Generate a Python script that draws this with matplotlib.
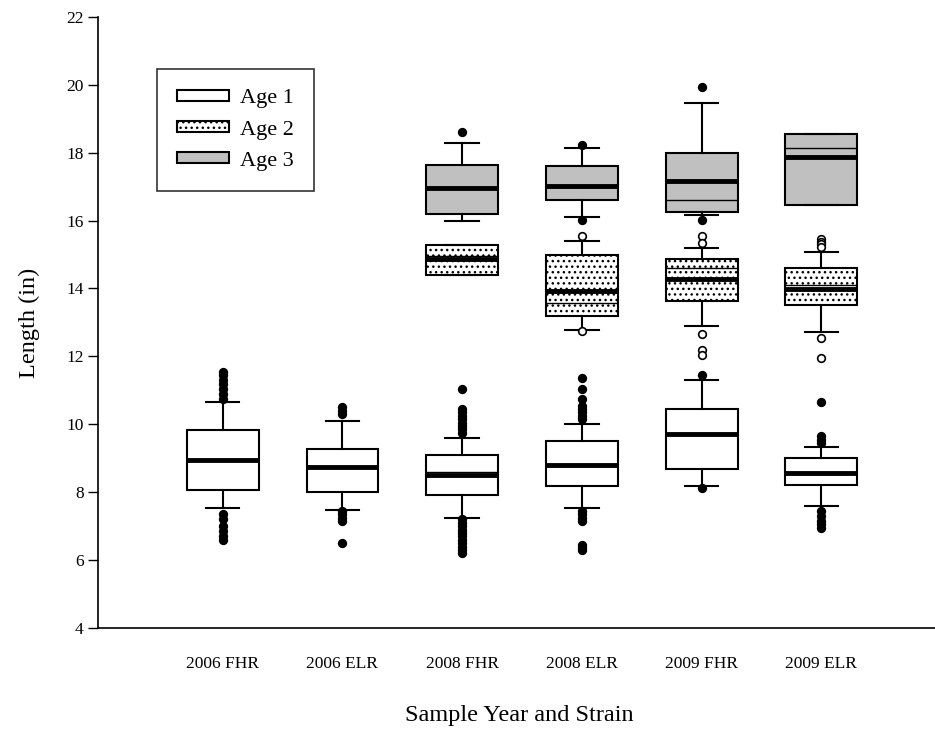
import matplotlib
matplotlib.use('Agg')
import matplotlib.pyplot as plt
from matplotlib.patches import Patch

plt.rcParams['font.family'] = ['Liberation Serif', 'DejaVu Serif']
plt.rcParams['hatch.linewidth'] = 1.0
plt.rcParams['hatch.color'] = '#333333'

categories = ['2006 FHR', '2006 ELR', '2008 FHR', '2008 ELR', '2009 FHR', '2009 ELR']

# Age 1 (all six groups)
age1_pos = [1, 2, 3, 4, 5, 6]
age1_q1 = [8.05, 8.01, 7.91, 8.19, 8.69, 8.20]
age1_q3 = [9.83, 9.27, 9.11, 9.52, 10.45, 9.01]
age1_med = [8.95, 8.75, 8.60, 8.81, 9.72, 8.58]
age1_mean = [8.95, 8.75, 8.51, 8.81, 9.72, 8.58]
age1_lo = [7.52, 7.49, 7.24, 7.52, 8.19, 7.60]
age1_hi = [10.65, 10.09, 9.61, 10.02, 11.31, 9.33]
age1_out = [
    [10.75, 10.9, 11.05, 11.2, 11.3, 11.45, 11.55, 7.35, 7.2, 7.0, 6.85, 6.7, 6.6],
    [10.3, 10.4, 10.5, 7.45, 7.35, 7.25, 7.15, 6.5],
    [11.04, 10.45, 10.35, 10.25, 10.15, 10.05, 9.95, 9.85, 9.75,
     7.2, 7.1, 7.0, 6.9, 6.8, 6.7, 6.6, 6.5, 6.4, 6.3, 6.2],
    [11.35, 11.05, 10.75, 10.55, 10.45, 10.35, 10.25, 10.15,
     7.45, 7.35, 7.25, 7.15, 6.45, 6.35, 6.3],
    [11.45, 8.13],
    [10.65, 9.65, 9.55, 9.45, 7.45, 7.3, 7.15, 7.05, 6.95],
]

# Age 2 (2008 and 2009 only)
age2_pos = [3, 4, 5, 6]
age2_q1 = [14.41, 13.20, 13.63, 13.52]
age2_q3 = [15.28, 14.99, 14.88, 14.60]
age2_med = [14.95, 13.58, 14.60, 14.10]
age2_mean = [14.86, 13.93, 14.29, 13.99]
age2_lo = [14.41, 12.78, 12.88, 12.71]
age2_hi = [15.28, 15.41, 15.20, 15.07]
age2_out = [[], [15.53, 12.74], [15.53, 15.35, 12.65, 12.2, 12.05],
            [15.45, 15.38, 15.3, 15.23, 12.54, 11.95]]

# Age 3 (2008 and 2009 only)
age3_pos = [3, 4, 5, 6]
age3_q1 = [16.20, 16.61, 16.25, 16.46]
age3_q3 = [17.64, 17.61, 18.00, 18.55]
age3_med = [16.95, 17.02, 16.59, 18.13]
age3_mean = [16.95, 17.02, 17.15, 17.86]
age3_lo = [16.00, 16.09, 16.15, 16.46]
age3_hi = [18.29, 18.14, 19.47, 18.55]
age3_out = [[18.60], [18.23, 16.02], [19.94, 16.02], []]


def make_stats(q1, q3, med, mean, lo, hi, out):
    return [dict(q1=a, q3=b, med=m, mean=mu, whislo=l, whishi=h, fliers=f)
            for a, b, m, mu, l, h, f in zip(q1, q3, med, mean, lo, hi, out)]


fig = plt.figure(figsize=(9.35, 7.29), dpi=100)
# right end of the x axis runs just past the figure edge, as in the original
ax = fig.add_axes([0.105, 0.1385, 0.9015, 0.8385])

groups = [
    (age1_pos, make_stats(age1_q1, age1_q3, age1_med, age1_mean, age1_lo, age1_hi, age1_out),
     'white', None, 'black'),
    (age2_pos, make_stats(age2_q1, age2_q3, age2_med, age2_mean, age2_lo, age2_hi, age2_out),
     'white', '...', 'white'),
    (age3_pos, make_stats(age3_q1, age3_q3, age3_med, age3_mean, age3_lo, age3_hi, age3_out),
     '#c0c0c0', None, 'black'),
]

for pos, stats, face, hatch, flier_face in groups:
    ax.bxp(stats, positions=pos, widths=0.6, capwidths=0.28,
           showmeans=True, meanline=True, patch_artist=True,
           boxprops=dict(facecolor=face, edgecolor='black', linewidth=1.5, hatch=hatch),
           whiskerprops=dict(color='black', linewidth=1.5),
           capprops=dict(color='black', linewidth=1.5),
           medianprops=dict(color='black', linewidth=1.0),
           meanprops=dict(color='black', linestyle='-', linewidth=3.5),
           flierprops=dict(marker='o', markersize=5.5, markerfacecolor=flier_face,
                           markeredgecolor='black', markeredgewidth=1.2, linestyle='none'))

ax.set_xlim(-0.04, 7.0)
ax.set_ylim(4, 22)
ax.set_yticks(range(4, 23, 2))
ax.set_xticks(age1_pos)
ax.set_xticklabels(categories)
ax.tick_params(axis='x', length=0, pad=20, labelsize=12.5)
ax.tick_params(axis='y', direction='out', length=7, width=1, labelsize=12.5)
ax.spines['top'].set_visible(False)
ax.spines['right'].set_visible(False)
ax.spines['left'].set_linewidth(1.2)
ax.spines['bottom'].set_linewidth(1.2)

ax.set_ylabel('Length (in)', fontsize=17.5, labelpad=19)
ax.set_xlabel('Sample Year and Strain', fontsize=17.5, labelpad=24)

handles = [
    Patch(facecolor='white', edgecolor='black', linewidth=1.5, label='Age 1'),
    Patch(facecolor='white', edgecolor='black', linewidth=1.5, hatch='...', label='Age 2'),
    Patch(facecolor='#c0c0c0', edgecolor='black', linewidth=1.5, label='Age 3'),
]
leg = ax.legend(handles=handles, loc='upper left', bbox_to_anchor=(0.0695, 0.914),
                borderaxespad=0, fontsize=16, frameon=True, fancybox=False,
                edgecolor='black', handlelength=2.35, handleheight=0.4,
                borderpad=0.9, labelspacing=0.55, handletextpad=0.5)
leg.get_frame().set_linewidth(1.2)

fig.savefig('out.png', dpi=100)
